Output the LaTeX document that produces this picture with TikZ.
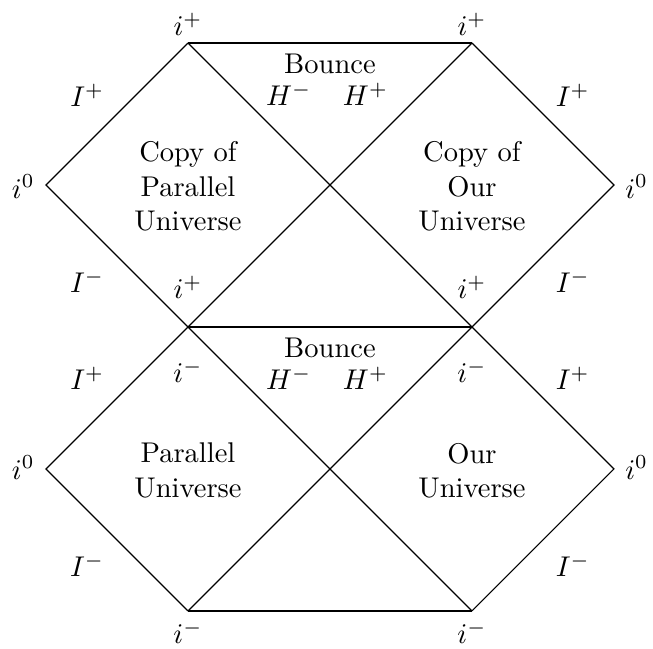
\documentclass[tikz,border=0pt]{standalone}
\usepackage{amsmath,amssymb}
\usepackage{tikz}

\begin{document}
\begin{tikzpicture}[x=1.75cm, y=1.75cm,
    region/.style={align=center},
    bound/.style={inner sep=0.5pt}]

    \useasboundingbox (-2.324,-2.261) rectangle (2.275,2.303);

    % vertices
    \coordinate (T1) at (-1, 2);  \coordinate (T2) at (1, 2);
    \coordinate (L1) at (-2, 1);  \coordinate (R1) at (2, 1);
    \coordinate (M1) at (-1, 0);  \coordinate (M2) at (1, 0);
    \coordinate (L2) at (-2,-1);  \coordinate (R2) at (2,-1);
    \coordinate (B1) at (-1,-2);  \coordinate (B2) at (1,-2);

    % --- upper copy ------------------------------------------------------
    \draw (T1) -- (T2);
    \draw (T1) -- (L1) -- (M1);
    \draw (T2) -- (R1) -- (M2);
    \draw (T1) -- (M2);
    \draw (T2) -- (M1);
    \draw (M1) -- (M2);
    % --- lower universe --------------------------------------------------
    \draw (M1) -- (L2) -- (B1);
    \draw (M2) -- (R2) -- (B2);
    \draw (M1) -- (B2);
    \draw (M2) -- (B1);
    \draw (B1) -- (B2);

    % upper labels
    \node[bound] (tip1) at (-1, 2.13) {$i^+$};
    \node[bound] (tip2) at ( 1, 2.13) {$i^+$};
    \node[bound] (scrip1) at (-1.71, 1.63) {$I^+$};
    \node[bound] (scrip2) at ( 1.71, 1.63) {$I^+$};
    \node[bound] (bounceA) at (0, 1.85) {Bounce};
    \node[bound] (hmA) at (-0.29, 1.64) {$H^-$};
    \node[bound] (hpA) at ( 0.25, 1.64) {$H^+$};
    \node[region] (copypar) at (-1, 0.99) {Copy of\\Parallel\\Universe};
    \node[region] (copyour) at ( 1, 0.99) {Copy of\\Our\\Universe};
    \node[bound] (izeroA1) at (-2.16, 0.99) {$i^0$};
    \node[bound] (izeroA2) at ( 2.16, 0.99) {$i^0$};
    \node[bound] (scrim1) at (-1.71, 0.32) {$I^-$};
    \node[bound] (scrim2) at ( 1.71, 0.32) {$I^-$};
    \node[bound] (ipmid1) at (-1, 0.28) {$i^+$};
    \node[bound] (ipmid2) at ( 1, 0.28) {$i^+$};

    % lower labels
    \node[bound] (scrip3) at (-1.71,-0.36) {$I^+$};
    \node[bound] (scrip4) at ( 1.71,-0.36) {$I^+$};
    \node[bound] (immid1) at (-1,-0.31) {$i^-$};
    \node[bound] (immid2) at ( 1,-0.31) {$i^-$};
    \node[bound] (bounceB) at (0,-0.15) {Bounce};
    \node[bound] (hmB) at (-0.29,-0.36) {$H^-$};
    \node[bound] (hpB) at ( 0.25,-0.36) {$H^+$};
    \node[region] (paruni) at (-1,-1.01) {Parallel\\Universe};
    \node[region] (ouruni) at ( 1,-1.01) {Our\\Universe};
    \node[bound] (izeroB1) at (-2.16,-0.99) {$i^0$};
    \node[bound] (izeroB2) at ( 2.16,-0.99) {$i^0$};
    \node[bound] (scrim3) at (-1.71,-1.68) {$I^-$};
    \node[bound] (scrim4) at ( 1.71,-1.68) {$I^-$};
    \node[bound] (imbot1) at (-1,-2.15) {$i^-$};
    \node[bound] (imbot2) at ( 1,-2.15) {$i^-$};
\end{tikzpicture}
\end{document}
